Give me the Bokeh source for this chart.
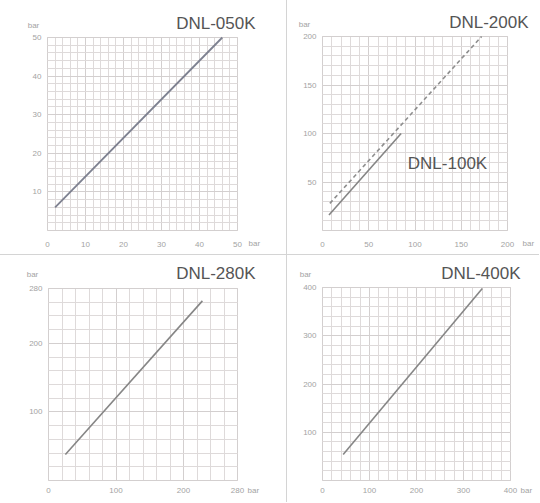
from bokeh.plotting import figure
from bokeh.models import FixedTicker, Label, Spacer
from bokeh.layouts import row, column
from bokeh.embed import file_html
from bokeh.resources import INLINE

# ---------------- data ----------------
titles = ["DNL-050K", "DNL-200K", "DNL-280K", "DNL-400K"]
label_100k = "DNL-100K"
unit = "bar"

axis_max = [50, 200, 280, 400]
x_ticks = [[0, 10, 20, 30, 40, 50],
           [0, 50, 100, 150, 200],
           [0, 100, 200, 280],
           [0, 100, 200, 300, 400]]
y_ticks = [[10, 20, 30, 40, 50],
           [50, 100, 150, 200],
           [100, 200, 280],
           [100, 200, 300, 400]]
grid_step = [2, 10, 20, 20]

# inlet pressure (x) -> outlet pressure (y), bar
dnl050_x = [2, 46]
dnl050_y = [6, 50]
dnl100_x = [7, 85]
dnl100_y = [16, 100]
dnl200_x = [8, 172]
dnl200_y = [28, 200]
dnl280_x = [25, 228]
dnl280_y = [38, 262]
dnl400_x = [44, 340]
dnl400_y = [54, 398]

FONT = "Liberation Sans"
GRID = "#d3cfcf"
MINOR = "#dedada"
TICK = "#a3a3a3"
TITLE = "#555555"


def make_panel(i, fl, fw, fr, ft, fh, fb, x_standoff):
    """Whole panel is the frame; the chart area sits inside it."""
    m = axis_max[i]
    kx = m / fw
    ky = m / fh
    p = figure(frame_width=fl + fw + fr, frame_height=ft + fh + fb,
               min_border=0,
               x_range=(-fl * kx, m + fr * kx),
               y_range=(-fb * ky, m + ft * ky),
               toolbar_location=None, output_backend="svg", title=None)
    minors = list(range(0, m + 1, grid_step[i]))
    xt = FixedTicker(ticks=x_ticks[i], minor_ticks=minors)
    yt = FixedTicker(ticks=y_ticks[i], minor_ticks=minors)
    gxt = FixedTicker(ticks=x_ticks[i] + [m], minor_ticks=minors)
    gyt = FixedTicker(ticks=[0] + y_ticks[i] + [m], minor_ticks=minors)
    p.xaxis.ticker = xt
    p.yaxis.ticker = yt
    p.xaxis.fixed_location = 0
    p.yaxis.fixed_location = 0
    p.xgrid.ticker = gxt
    p.ygrid.ticker = gyt
    for g in (p.xgrid, p.ygrid):
        g.bounds = (0, m)
        g.cross_bounds = (0, m)
        g.grid_line_color = GRID
        g.grid_line_width = 1
        g.minor_grid_line_color = MINOR
        g.minor_grid_line_width = 1
    p.outline_line_color = None
    p.axis.axis_line_color = None
    p.axis.major_tick_line_color = None
    p.axis.minor_tick_line_color = None
    p.axis.major_label_text_font = FONT
    p.axis.major_label_text_font_size = "8px"
    p.axis.major_label_text_color = TICK
    p.xaxis.major_label_standoff = x_standoff
    p.yaxis.major_label_standoff = 0
    p.background_fill_color = "white"
    p.border_fill_color = "white"
    return p


def add_text(p, sx, sy, text, size, color, align, baseline="middle"):
    p.add_layout(Label(x=sx, y=sy, x_units="screen", y_units="screen",
                       text=text, text_font=FONT, text_font_size=size,
                       text_color=color, text_align=align,
                       text_baseline=baseline))


# panel 1: DNL-050K
p1 = make_panel(0, 47, 190, 49, 37, 193, 24, 5)
p1.line(dnl050_x, dnl050_y, line_color="#7d8190", line_width=1.8)
add_text(p1, 255, 231.5, titles[0], "17px", TITLE, "right")
add_text(p1, 33, 229, unit, "8px", TICK, "center")
add_text(p1, 248, 11, unit, "8px", TICK, "left")

# panel 2: DNL-200K (dashed) and DNL-100K (solid)
p2 = make_panel(1, 35, 185, 32, 36, 194, 24, 5)
p2.line(dnl200_x, dnl200_y, line_color="#8e8e8e", line_width=1.6,
        line_dash="4 3")
p2.line(dnl100_x, dnl100_y, line_color="#858585", line_width=1.6)
add_text(p2, 241, 232, titles[1], "17px", TITLE, "right")
add_text(p2, 160, 91, label_100k, "17px", TITLE, "center")
add_text(p2, 17, 230, unit, "8px", TICK, "center")
add_text(p2, 235, 11, unit, "8px", TICK, "left")

# panel 3: DNL-280K
p3 = make_panel(2, 48, 189, 49, 33, 192, 22, 1)
p3.line(dnl280_x, dnl280_y, line_color="#868686", line_width=1.6)
add_text(p3, 255, 229.5, titles[2], "17px", TITLE, "right")
add_text(p3, 32, 228, unit, "8px", TICK, "center")
add_text(p3, 247, 12, unit, "8px", TICK, "left")

# panel 4: DNL-400K
p4 = make_panel(3, 35, 188, 29, 32, 193, 22, 1)
p4.line(dnl400_x, dnl400_y, line_color="#868686", line_width=1.6)
add_text(p4, 233, 229.5, titles[3], "17px", TITLE, "right")
add_text(p4, 18, 228, unit, "8px", TICK, "center")
add_text(p4, 233, 12, unit, "8px", TICK, "left")

DIV = {"background-color": "#d4d4d4"}
v1 = Spacer(width=1, height=254, styles=DIV)
v2 = Spacer(width=1, height=247, styles=DIV)
h = Spacer(width=539, height=1, styles=DIV)

layout = column(row(p1, v1, p2, spacing=0), h, row(p3, v2, p4, spacing=0),
                spacing=0)

open("out.html", "w").write(file_html(layout, INLINE))
